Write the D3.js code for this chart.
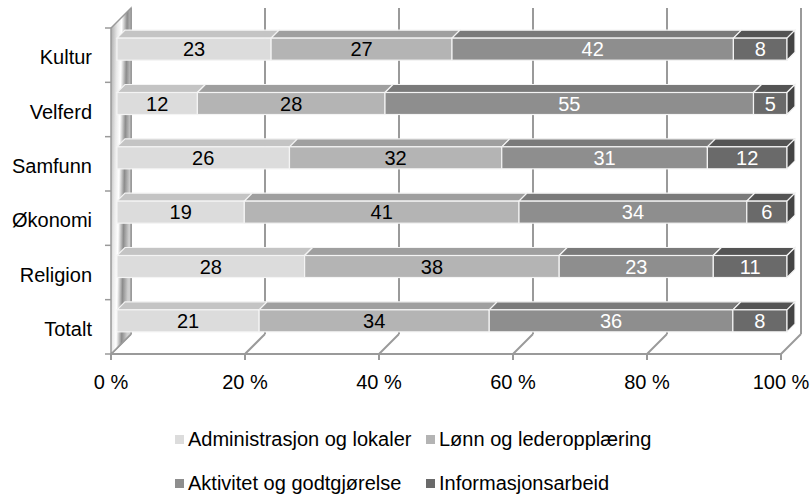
<!DOCTYPE html>
<html>
<head>
<meta charset="utf-8">
<script src="https://cdn.jsdelivr.net/npm/d3@7"></script>
<style>
  body { margin: 0; background: #fff; }
  svg { font-family: "Liberation Sans", Arial, sans-serif; }
</style>
</head>
<body>
<svg id="chart"></svg>
<script>
// data
const categories = ['Kultur', 'Velferd', 'Samfunn', 'Økonomi', 'Religion', 'Totalt'];
const seriesNames = ['Administrasjon og lokaler', 'Lønn og lederopplæring', 'Aktivitet og godtgjørelse', 'Informasjonsarbeid'];
const admin = [23, 12, 26, 19, 28, 21];
const lonn = [27, 28, 32, 41, 38, 34];
const aktivitet = [42, 55, 31, 34, 23, 36];
const info = [8, 5, 12, 6, 11, 8];
const tickValues = [0, 20, 40, 60, 80, 100];

// set up constants
const width = 812;
const height = 497;
const depth = 20;        // floor depth offset (px)
const barFront = 6;      // bar starts this deep
const barDepth = 8;      // bar thickness in depth
const fontSize = 20;
const frontColors = ['#dcdcdc', '#b4b4b4', '#8e8e8e', '#6a6a6a'];
const topColors = ['#c4c4c4', '#9f9f9f', '#7a7a7a', '#545454'];
const sideColor = '#444444';
const textColors = ['#000', '#000', '#fff', '#fff'];

const svg = d3.select('#chart')
  .attr('width', width)
  .attr('height', height);

// scales (front plane)
const xScale = d3.scaleLinear().domain([0, 100]).range([111, 781]);
const yScale = d3.scaleBand().domain(categories).range([28, 354]).paddingInner(0).paddingOuter(0);
const floorY = 354;
const wallTop = 28;

// gradient for left wall
const defs = svg.append('defs');
const grad = defs.append('linearGradient')
  .attr('id', 'wallGrad')
  .attr('x1', '0%').attr('y1', '0%')
  .attr('x2', '100%').attr('y2', '30%');
[['0%', '#a8a8a8'], ['30%', '#e8e8e8'], ['50%', '#ffffff'], ['75%', '#8c8c8c'], ['100%', '#cfcfcf']]
  .forEach(s => grad.append('stop').attr('offset', s[0]).attr('stop-color', s[1]));

// back wall gridlines
svg.append('g')
  .selectAll('line')
  .data(tickValues)
  .enter()
  .append('line')
  .attr('x1', d => xScale(d) + depth)
  .attr('x2', d => xScale(d) + depth)
  .attr('y1', wallTop - depth)
  .attr('y2', floorY - depth)
  .attr('stroke', '#9a9a9a')
  .attr('stroke-width', 2);

// floor lines
const floor = svg.append('g').attr('stroke', '#9a9a9a').attr('stroke-width', 2).attr('fill', 'none');
floor.selectAll('line.diag')
  .data(tickValues)
  .enter()
  .append('line')
  .attr('class', 'diag')
  .attr('x1', d => xScale(d) + depth)
  .attr('y1', floorY - depth)
  .attr('x2', d => xScale(d))
  .attr('y2', floorY);
floor.append('line')
  .attr('x1', xScale(0)).attr('x2', xScale(100))
  .attr('y1', floorY).attr('y2', floorY);
floor.selectAll('line.tick')
  .data(tickValues)
  .enter()
  .append('line')
  .attr('class', 'tick')
  .attr('x1', d => xScale(d)).attr('x2', d => xScale(d))
  .attr('y1', floorY).attr('y2', floorY + 6);

// left wall
svg.append('path')
  .attr('d', `M${xScale(0)},${floorY} L${xScale(0)},${wallTop} L${xScale(0) + depth},${wallTop - depth} L${xScale(0) + depth},${floorY - depth} Z`)
  .attr('fill', 'url(#wallGrad)')
  .attr('stroke', '#9a9a9a')
  .attr('stroke-width', 1.5);

// left axis ticks
const bounds = categories.map(c => yScale(c)).concat([floorY]);
svg.append('g')
  .selectAll('line')
  .data(bounds)
  .enter()
  .append('line')
  .attr('x1', xScale(0) - 6).attr('x2', xScale(0))
  .attr('y1', d => d).attr('y2', d => d)
  .attr('stroke', '#9a9a9a')
  .attr('stroke-width', 1.5);

// build stacked percent data
const rows = categories.map((c, i) => {
  const vals = [admin[i], lonn[i], aktivitet[i], info[i]];
  const total = d3.sum(vals);
  let acc = 0;
  const segs = vals.map((v, k) => {
    const s = { cat: c, k, value: v, x0: acc / total * 100, x1: (acc + v) / total * 100 };
    acc += v;
    return s;
  });
  return { cat: c, segs };
});

const barH = yScale.bandwidth() * 0.405;
const bars = svg.append('g');

rows.forEach(row => {
  const yTop = yScale(row.cat) + (yScale.bandwidth() - barH) / 2 - barFront;
  const g = bars.append('g');
  row.segs.forEach((s, idx) => {
    const xa = xScale(s.x0) + barFront;
    const xb = xScale(s.x1) + barFront;
    // top face
    g.append('path')
      .attr('d', `M${xa},${yTop} L${xa + barDepth},${yTop - barDepth} L${xb + barDepth},${yTop - barDepth} L${xb},${yTop} Z`)
      .attr('fill', topColors[s.k])
      .attr('stroke', '#f4f4f4')
      .attr('stroke-width', 1.2);
    // front face
    g.append('rect')
      .attr('x', xa)
      .attr('y', yTop)
      .attr('width', xb - xa)
      .attr('height', barH)
      .attr('fill', frontColors[s.k])
      .attr('stroke', '#f4f4f4')
      .attr('stroke-width', 1.2);
    // side face for last segment
    if (idx === row.segs.length - 1) {
      g.append('path')
        .attr('d', `M${xb},${yTop} L${xb + barDepth},${yTop - barDepth} L${xb + barDepth},${yTop - barDepth + barH} L${xb},${yTop + barH} Z`)
        .attr('fill', sideColor)
        .attr('stroke', '#f4f4f4')
        .attr('stroke-width', 1.2);
    }
    // value label
    g.append('text')
      .attr('x', (xa + xb) / 2)
      .attr('y', yTop + barH / 2)
      .attr('dy', '0.36em')
      .attr('text-anchor', 'middle')
      .attr('font-size', fontSize)
      .attr('fill', textColors[s.k])
      .text(s.value);
  });
});

// category labels
svg.append('g')
  .selectAll('text')
  .data(categories)
  .enter()
  .append('text')
  .attr('x', 92)
  .attr('y', d => yScale(d) + yScale.bandwidth() / 2 + 2)
  .attr('dy', '0.36em')
  .attr('text-anchor', 'end')
  .attr('font-size', fontSize)
  .attr('fill', '#000')
  .text(d => d);

// x axis labels
svg.append('g')
  .selectAll('text')
  .data(tickValues)
  .enter()
  .append('text')
  .attr('x', d => xScale(d))
  .attr('y', 382)
  .attr('dy', '0.36em')
  .attr('text-anchor', 'middle')
  .attr('font-size', fontSize)
  .attr('fill', '#000')
  .text(d => `${d} %`);

// legend
const legendPos = [[175, 439], [426, 439], [175, 483], [426, 483]];
const legend = svg.append('g')
  .selectAll('g')
  .data(seriesNames)
  .enter()
  .append('g')
  .attr('transform', (d, i) => `translate(${legendPos[i][0]}, ${legendPos[i][1]})`);
legend.append('rect')
  .attr('x', 0).attr('y', -4)
  .attr('width', 9).attr('height', 9)
  .attr('fill', (d, i) => frontColors[i]);
legend.append('text')
  .attr('x', 13)
  .attr('y', 0)
  .attr('dy', '0.36em')
  .attr('font-size', fontSize)
  .attr('fill', '#000')
  .text(d => d);
</script>
</body>
</html>
